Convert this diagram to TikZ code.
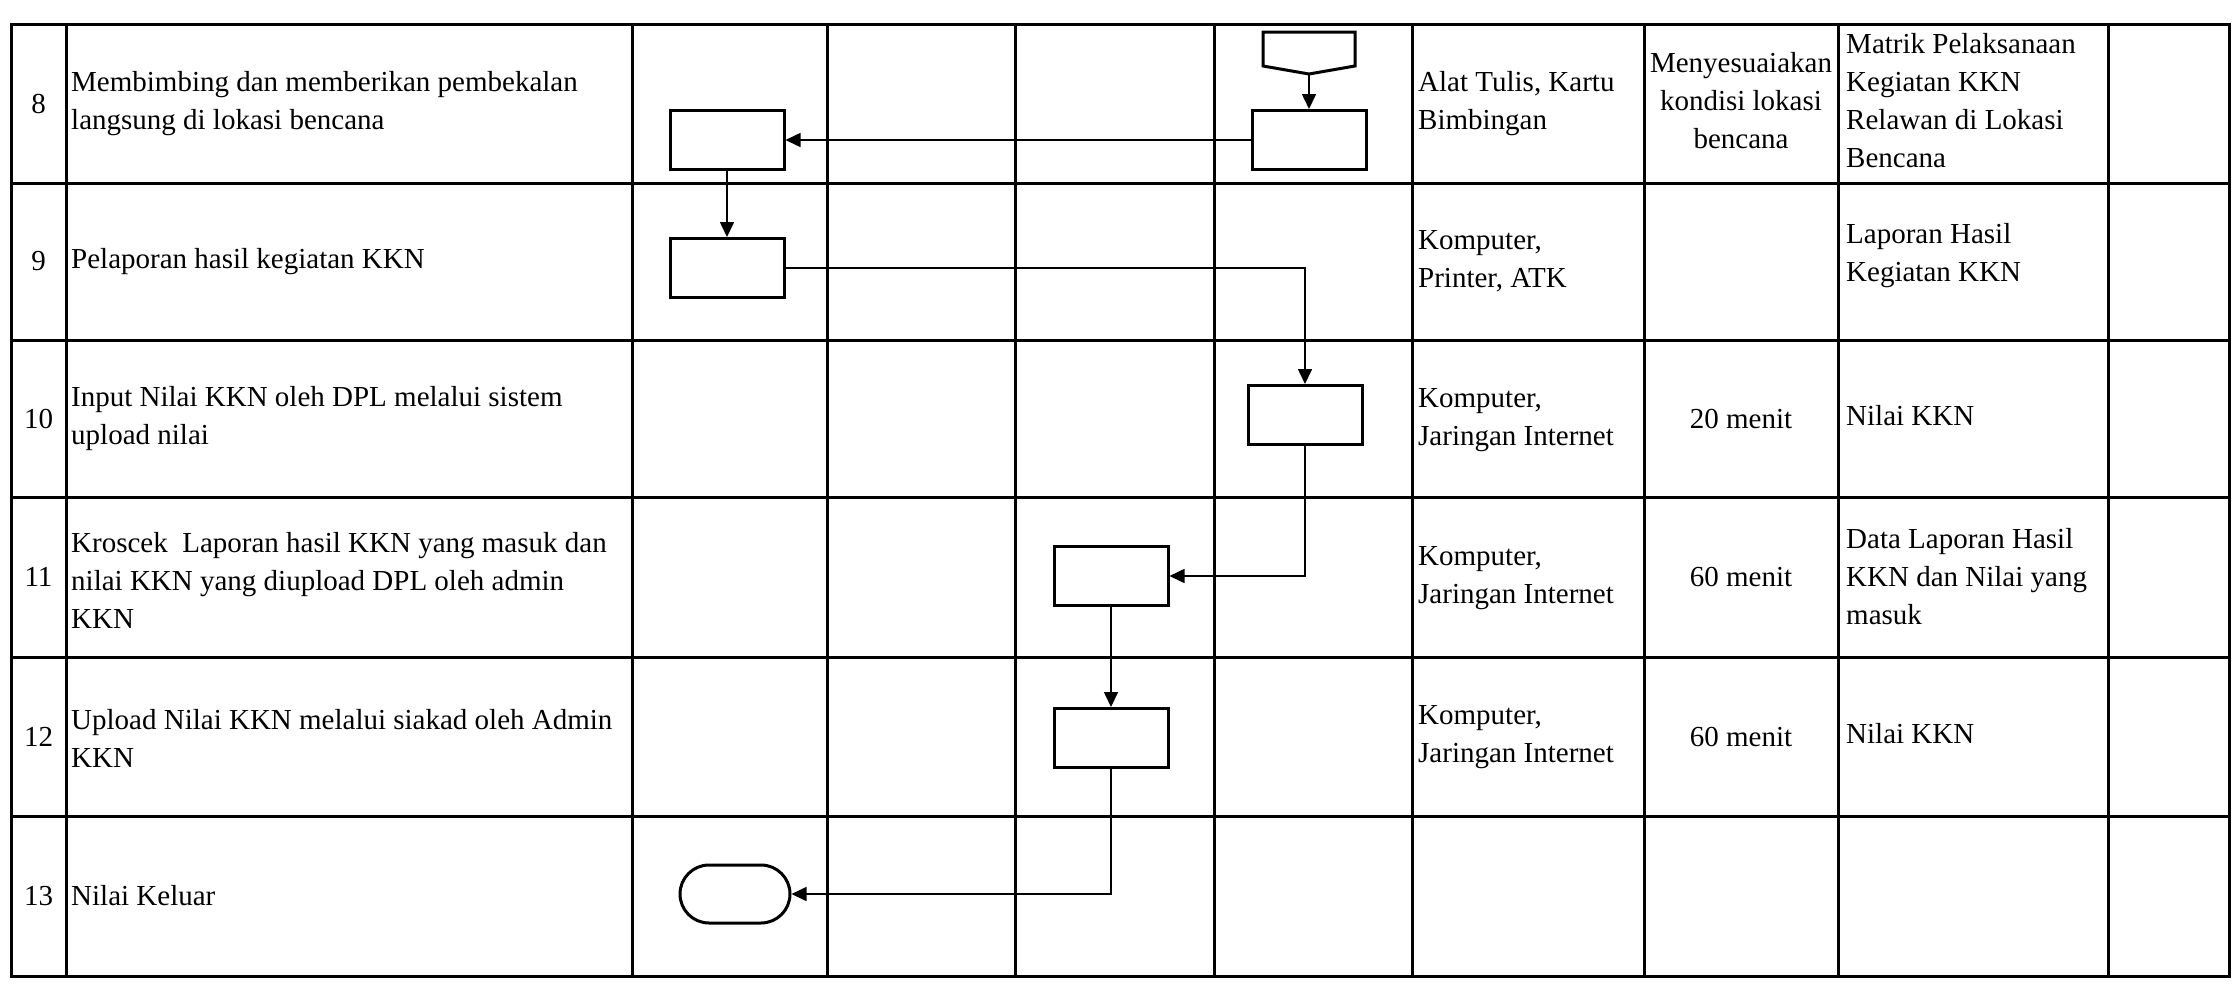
\documentclass[tikz,border=0pt]{standalone}
\usepackage{fontspec}
\setmainfont{Liberation Serif}
\usetikzlibrary{arrows.meta,shapes.misc}
\begin{document}
\begin{tikzpicture}[x=1pt,y=-1pt,
  gridline/.style={line width=3pt, line cap=rect},
  proc/.style={draw, line width=3pt, minimum width=114pt, minimum height=59pt, inner sep=0pt},
  term/.style={draw, line width=3pt, rounded rectangle, minimum width=110pt, minimum height=58pt, inner sep=0pt},
  conn/.style={line width=1.6pt, -{Triangle[length=15pt,width=14pt]}},
  cell/.style={font=\fontsize{29}{38}\selectfont, inner sep=0pt, align=left, anchor=west},
  ccell/.style={font=\fontsize{29}{38}\selectfont, inner sep=0pt, align=center, anchor=center}
]
\useasboundingbox[fill=white] (0,0) rectangle (2236,986);
% table grid
\foreach \x in {11,66,632,827,1015,1214,1412,1644,1838,2108,2229}
  \draw[gridline] (\x,24) -- (\x,976);
\foreach \y in {24,183,340,497,657,816,976}
  \draw[gridline] (11,\y) -- (2229,\y);

% row numbers
\node[ccell] (n8)  at (38.5,103.5) {8};
\node[ccell] (n9)  at (38.5,261.5) {9};
\node[ccell] (n10) at (38.5,418.5) {10};
\node[ccell] (n11) at (38.5,577) {11};
\node[ccell] (n12) at (38.5,736.5) {12};
\node[ccell] (n13) at (38.5,896) {13};

% activity descriptions
\node[cell] (a8)  at (71,103.5) {Membimbing dan memberikan pembekalan\\langsung di lokasi bencana};
\node[cell] (a9)  at (71,261.5) {Pelaporan hasil kegiatan KKN};
\node[cell] (a10) at (71,418.5) {Input Nilai KKN oleh DPL melalui sistem\\upload nilai};
\node[cell] (a11) at (71,580) {Kroscek~ Laporan hasil KKN yang masuk dan\\nilai KKN yang diupload DPL oleh admin\\KKN};
\node[cell] (a12) at (71,738) {Upload Nilai KKN melalui siakad oleh Admin\\KKN};
\node[cell] (a13) at (71,896) {Nilai Keluar};

% equipment column
\node[cell] (k8)  at (1418,103.5) {Alat Tulis, Kartu\\Bimbingan};
\node[cell] (k9)  at (1418,261.5) {Komputer,\\Printer, ATK};
\node[cell] (k10) at (1418,420) {Komputer,\\Jaringan Internet};
\node[cell] (k11) at (1418,578) {Komputer,\\Jaringan Internet};
\node[cell] (k12) at (1418,737) {Komputer,\\Jaringan Internet};

% time column
\node[ccell] (w8)  at (1741,101) {Menyesuaiakan\\kondisi lokasi\\bencana};
\node[ccell] (w10) at (1741,418.5) {20 menit};
\node[ccell] (w11) at (1741,577) {60 menit};
\node[ccell] (w12) at (1741,736.5) {60 menit};

% output column
\node[cell] (o8)  at (1846,101) {Matrik Pelaksanaan\\Kegiatan KKN\\Relawan di Lokasi\\Bencana};
\node[cell] (o9)  at (1846,256) {Laporan Hasil\\Kegiatan KKN};
\node[cell] (o10) at (1846,416) {Nilai KKN};
\node[cell] (o11) at (1846,577) {Data Laporan Hasil\\KKN dan Nilai yang\\masuk};
\node[cell] (o12) at (1846,734) {Nilai KKN};

% flowchart symbols
\draw[line width=3pt, line join=miter] (1263,32) -- (1355,32) -- (1355,66) -- (1309,74) -- (1263,66) -- cycle;
\coordinate (optip) at (1309,74);
\node[proc] (B8a) at (1309,140) {};
\node[proc] (B8b) at (727,140) {};
\node[proc] (B9)  at (727,268) {};
\node[proc] (B10) at (1305,415) {};
\node[proc] (B11) at (1111,576) {};
\node[proc] (B12) at (1111,738) {};
\node[term] (T13) at (735,894) {};

% connectors
\draw[conn] (optip) -- (B8a.north);
\draw[conn] (B8a.west) -- (B8b.east);
\draw[conn] (B8b.south) -- (B9.north);
\draw[conn] (B9.east) -| (B10.north);
\draw[conn] (B10.south) |- (B11.east);
\draw[conn] (B11.south) -- (B12.north);
\draw[conn] (B12.south) |- (T13.east);
\end{tikzpicture}
\end{document}
